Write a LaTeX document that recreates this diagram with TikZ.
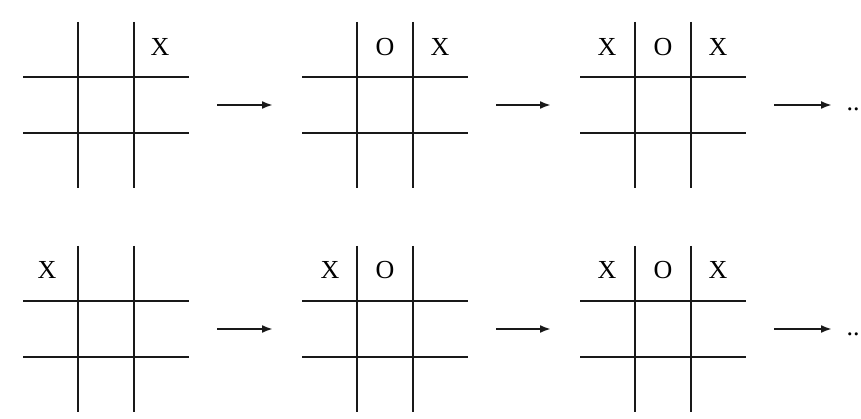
\documentclass[tikz,border=0pt]{standalone}
\usepackage{fontspec}
\setmainfont{Liberation Serif}
\usetikzlibrary{arrows.meta}
\tikzset{
  gridline/.style={line width=2pt, black!90},
  boardbox/.style={minimum size=166pt, inner sep=0pt, outer sep=0pt},
  marktext/.style={font=\fontsize{26}{30}\selectfont, inner sep=0pt},
  arr/.style={line width=2pt, black!90, -{Latex[length=11pt,width=8pt]}, shorten <=28pt, shorten >=29pt},
  arrlast/.style={line width=2pt, black!90, -{Latex[length=11pt,width=8pt]}, shorten <=28pt},
}
\newcommand\tttboard[3]{% name, cx, cy
  \node[boardbox] (#1) at (#2,#3) {};
  \draw[gridline] ([xshift=-28pt]#1.north) -- ([xshift=-28pt]#1.south);
  \draw[gridline] ([xshift=28pt]#1.north) -- ([xshift=28pt]#1.south);
  \draw[gridline] ([yshift=28pt]#1.west) -- ([yshift=28pt]#1.east);
  \draw[gridline] ([yshift=-28pt]#1.west) -- ([yshift=-28pt]#1.east);
}
\begin{document}
\begin{tikzpicture}[x=1pt,y=-1pt]
\useasboundingbox (0,0) rectangle (861,419);
% top row
\tttboard{ta}{106}{105}
\tttboard{tb}{385}{105}
\tttboard{tc}{663}{105}
\node[marktext] (ta3) at (160,47) {X};
\node[marktext] (tb2) at (385,47) {O};
\node[marktext] (tb3) at (440,47) {X};
\node[marktext] (tc1) at (607,47) {X};
\node[marktext] (tc2) at (663,47) {O};
\node[marktext] (tc3) at (718,47) {X};
\coordinate (tend) at (832,105);
\node[marktext, anchor=base] (tdots) at (853,111) {..};
\draw[arr] (ta) -- (tb);
\draw[arr] (tb) -- (tc);
\draw[arrlast] (tc) -- (tend);
% bottom row
\tttboard{ba}{106}{329}
\tttboard{bb}{385}{329}
\tttboard{bc}{663}{329}
\node[marktext] (ba1) at (47,270) {X};
\node[marktext] (bb1) at (330,270) {X};
\node[marktext] (bb2) at (385,270) {O};
\node[marktext] (bc1) at (607,270) {X};
\node[marktext] (bc2) at (663,270) {O};
\node[marktext] (bc3) at (718,270) {X};
\coordinate (bend) at (832,329);
\node[marktext, anchor=base] (bdots) at (853,335) {..};
\draw[arr] (ba) -- (bb);
\draw[arr] (bb) -- (bc);
\draw[arrlast] (bc) -- (bend);
\end{tikzpicture}
\end{document}
